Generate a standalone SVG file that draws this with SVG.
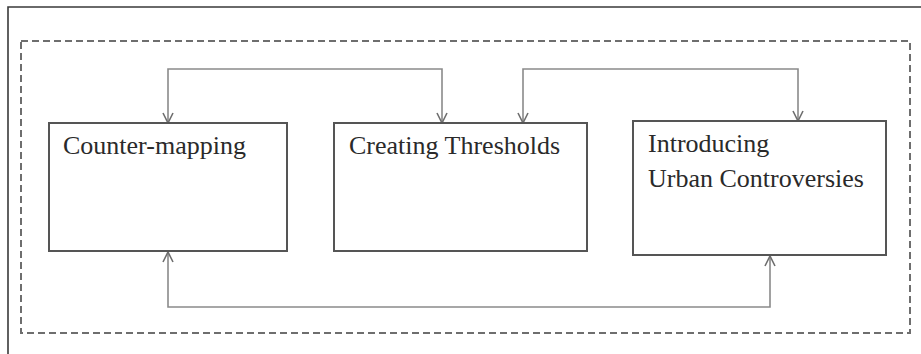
<svg xmlns="http://www.w3.org/2000/svg" width="921" height="354" viewBox="0 0 921 354">
<style>
.frame{fill:none;stroke:#3a3a3a;stroke-width:1.6}
.dash{fill:none;stroke:#6e6e6e;stroke-width:2;stroke-dasharray:7 4}
.box{fill:#fff;stroke:#555;stroke-width:2}
.conn{fill:none;stroke:#8a8a8a;stroke-width:1.6}
.lbl{font-family:"Liberation Serif","Times New Roman",serif;font-size:26px;fill:#2a2a2a}
</style>
<defs>
<marker id="arr" viewBox="0 0 12 12" refX="11" refY="6" markerWidth="12" markerHeight="12" markerUnits="userSpaceOnUse" orient="auto-start-reverse">
<path d="M1,1 L11,6 L1,11" fill="none" stroke="#6e6e6e" stroke-width="1.6"/>
</marker>
</defs>
<rect width="921" height="354" fill="#fff"/>
<path class="frame" d="M8,354 V7 H921"/>
<rect class="dash" x="21" y="41" width="889" height="292"/>
<g id="connectors">
<path class="conn" d="M168,123 V69 H442 V123" marker-start="url(#arr)" marker-end="url(#arr)"/>
<path class="conn" d="M523,123 V69 H798 V121" marker-start="url(#arr)" marker-end="url(#arr)"/>
<path class="conn" d="M168,252 V307 H770 V256" marker-start="url(#arr)" marker-end="url(#arr)"/>
</g>
<g id="counter-mapping">
<rect class="box" x="49" y="123" width="238" height="128"/>
<text class="lbl" x="63" y="154">Counter-mapping</text>
</g>
<g id="creating-thresholds">
<rect class="box" x="334" y="123" width="253" height="128"/>
<text class="lbl" x="349" y="154">Creating Thresholds</text>
</g>
<g id="urban-controversies">
<rect class="box" x="633" y="121" width="253" height="134"/>
<text class="lbl" x="648" y="152">Introducing</text>
<text class="lbl" x="648" y="187">Urban Controversies</text>
</g>
</svg>
